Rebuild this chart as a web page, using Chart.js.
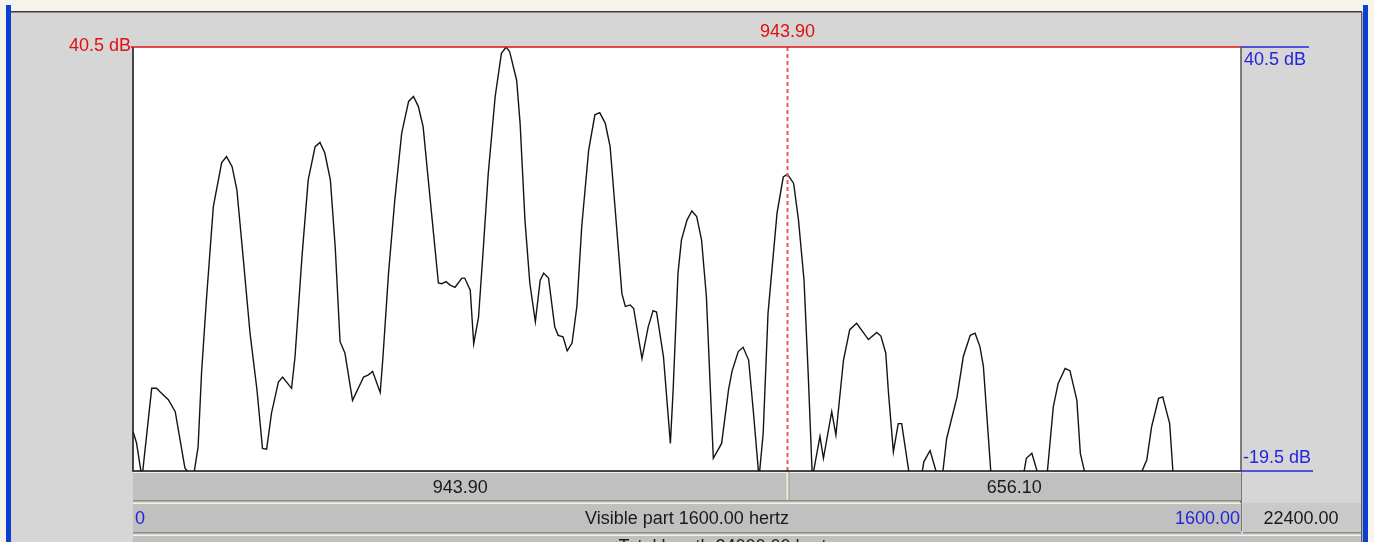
<!DOCTYPE html>
<html>
<head>
<meta charset="utf-8">
<script src="https://cdn.jsdelivr.net/npm/chart.js@4.4.1/dist/chart.umd.min.js"></script>
<style>
  html, body { margin: 0; padding: 0; background: #ffffff; overflow: hidden; }
  canvas { display: block; }
</style>
</head>
<body>
<canvas id="spec" width="1374" height="542"></canvas>
<script>
// spectrum slice, visible window 0..1600 Hz
const freqHz = [
  0, 5, 13, 27, 34, 39, 51, 61, 75, 87,
  94, 99, 106, 116, 128, 135, 143, 150, 159, 169,
  179, 187, 193, 200, 210, 216, 229, 234, 244, 253,
  263, 270, 277, 285, 292, 299, 306, 317, 333, 340,
  346, 357, 361, 369, 378, 388, 398, 405, 412, 419,
  426, 434, 441, 446, 452, 458, 465, 475, 479, 487,
  492, 499, 506, 513, 523, 532, 539, 544, 554, 559,
  566, 573, 581, 588, 593, 600, 609, 614, 621, 627,
  634, 641, 648, 658, 667, 674, 682, 689, 696, 706,
  711, 718, 723, 735, 744, 751, 756, 766, 776, 780,
  787, 792, 800, 807, 814, 821, 828, 838, 850, 860,
  865, 874, 881, 889, 896, 904, 910, 917, 930, 939,
  945, 954, 961, 969, 975, 981, 992, 997, 1009, 1015,
  1026, 1035, 1045, 1062, 1074, 1080, 1087, 1091, 1098, 1105,
  1110, 1121, 1130, 1139, 1142, 1151, 1161, 1165, 1169, 1175,
  1190, 1199, 1209, 1216, 1223, 1228, 1239, 1262, 1286, 1290,
  1298, 1307, 1314, 1320, 1329, 1336, 1346, 1353, 1363, 1368,
  1375, 1415, 1455, 1464, 1471, 1481, 1487, 1497, 1502, 1540,
  1600
];
const levelDb = [
  -13.9, -15.5, -20.5, -7.8, -7.8, -8.3, -9.4, -11.1, -19.1, -20.5,
  -16.1, -5.6, 4.7, 17.9, 24.1, 25.0, 23.6, 20.3, 10.8, 0.0,
  -8.0, -16.3, -16.4, -11.3, -6.9, -6.2, -7.8, -3.3, 10.8, 21.7,
  26.4, 27.0, 25.5, 21.7, 12.2, -1.2, -2.8, -9.5, -6.2, -5.9,
  -5.4, -8.4, -3.3, 8.5, 18.8, 28.3, 32.8, 33.5, 32.1, 29.2,
  22.1, 14.1, 7.1, 7.0, 7.3, 6.8, 6.5, 7.8, 7.8, 6.1,
  -1.5, 2.3, 12.2, 22.6, 33.5, 39.6, 40.5, 39.8, 35.8, 29.7,
  16.0, 7.1, 1.6, 7.5, 8.5, 7.8, 0.9, -0.3, -0.5, -2.5,
  -1.4, 3.8, 15.1, 25.9, 30.9, 31.2, 29.7, 26.4, 17.9, 5.6,
  3.8, 4.0, 3.5, -3.6, 0.9, 3.2, 3.0, -3.3, -15.6, -8.0,
  8.5, 13.2, 16.0, 17.3, 16.5, 13.2, 5.2, -17.7, -15.6, -8.0,
  -5.4, -2.6, -2.0, -3.8, -11.3, -20.5, -14.2, 2.8, 17.0, 22.1,
  22.5, 21.2, 16.0, 7.5, -5.7, -20.5, -14.6, -17.7, -11.1, -14.4,
  -3.8, 0.5, 1.4, -0.9, 0.1, -0.4, -2.8, -8.5, -16.8, -12.8,
  -12.8, -20, -24, -20, -18.2, -16.6, -20, -22, -20, -14.9,
  -9.0, -3.3, -0.3, 0.0, -1.9, -4.7, -20, -26, -20, -17.7,
  -17.0, -20, -22, -20, -10.4, -7.1, -5.0, -5.3, -9.5, -17.0,
  -20, -28, -20, -17.9, -13.2, -9.2, -9.0, -12.8, -20, -27,
  -25
];

const viewHz = [0, 1600];
const viewDb = [-19.5, 40.5];
const cursorHz = 943.90;
const totalHz = 24000;

const RED = '#e01010';
const BLUE = '#2424dc';
const FONT = '18px "Liberation Sans", Arial, sans-serif';

const praatFrame = {
  id: 'praatFrame',
  beforeDraw(chart) {
    const { ctx, chartArea: a, width: W, height: H } = chart;
    ctx.save();
    ctx.fillStyle = '#f6f4ea';
    ctx.fillRect(0, 0, W, H);
    ctx.fillStyle = '#d6d6d6';
    ctx.fillRect(10, 12, 1352, H - 12);
    ctx.fillStyle = '#3c3c3c';
    ctx.fillRect(10, 11, 1352, 1.5);
    ctx.fillStyle = '#0b3fd6';
    ctx.fillRect(6, 5, 5, H);
    ctx.fillRect(1363, 5, 5, H);
    ctx.fillStyle = '#606060';
    ctx.fillRect(1361, 12, 1.5, H);
    ctx.fillStyle = '#ffffff';
    ctx.fillRect(a.left, a.top, a.right - a.left, a.bottom - a.top);
    ctx.restore();
  },
  afterDraw(chart) {
    const { ctx, chartArea: a } = chart;
    const x = chart.scales.x, y = chart.scales.y;
    const cx = Math.round(x.getPixelForValue(cursorHz)) + 0.5;
    ctx.save();

    // cursor
    ctx.strokeStyle = '#f05454';
    ctx.lineWidth = 2;
    ctx.setLineDash([4, 3]);
    ctx.beginPath();
    ctx.moveTo(cx, a.top);
    ctx.lineTo(cx, a.bottom);
    ctx.stroke();
    ctx.setLineDash([]);

    // frame of the plot
    ctx.lineWidth = 1.5;
    ctx.strokeStyle = '#111';
    ctx.beginPath();
    ctx.moveTo(a.left, a.top); ctx.lineTo(a.left, a.bottom);
    ctx.lineTo(a.right, a.bottom);
    ctx.stroke();
    ctx.strokeStyle = '#555';
    ctx.beginPath();
    ctx.moveTo(a.right, a.top); ctx.lineTo(a.right, a.bottom + 60);
    ctx.stroke();
    ctx.strokeStyle = RED;
    ctx.beginPath();
    ctx.moveTo(a.left - 2, a.top); ctx.lineTo(a.right, a.top);
    ctx.stroke();

    // bars below the plot
    const bars = [[a.bottom + 1, 28], [a.bottom + 32, 29], [a.bottom + 64, 20]];
    bars.forEach(([top, h], i) => {
      ctx.fillStyle = '#c0c0c0';
      ctx.fillRect(a.left, top, (i === 2 ? 1361 : a.right) - a.left, h);
      ctx.fillStyle = '#f2f2ea';
      ctx.fillRect(a.left, top, (i === 2 ? 1361 : a.right) - a.left, 1);
      ctx.fillStyle = '#8e8a7c';
      ctx.fillRect(a.left, top + h, (i === 2 ? 1361 : a.right) - a.left, 1.5);
    });
    ctx.fillStyle = '#cacaca';
    ctx.fillRect(a.right + 2, bars[1][0], 1361 - a.right - 2, bars[1][1]);
    ctx.fillStyle = '#8e8a7c';
    ctx.fillRect(a.right + 2, bars[1][0] + bars[1][1], 1361 - a.right - 2, 1.5);
    ctx.fillStyle = '#eeeee4';
    ctx.fillRect(cx - 1, bars[0][0], 3, bars[0][1]);
    ctx.fillStyle = '#8e8a7c';
    ctx.fillRect(cx + 1, bars[0][0], 1, bars[0][1]);

    ctx.font = FONT;
    ctx.textBaseline = 'middle';

    // dB labels
    ctx.fillStyle = RED;
    ctx.textAlign = 'right';
    ctx.fillText(viewDb[1].toFixed(1) + ' dB', a.left - 2, a.top - 1);
    ctx.textAlign = 'center';
    ctx.fillText(cursorHz.toFixed(2), cx, a.top - 15);

    ctx.fillStyle = BLUE;
    ctx.strokeStyle = BLUE;
    ctx.lineWidth = 1.5;
    ctx.textAlign = 'left';
    const topTxt = viewDb[1].toFixed(1) + ' dB';
    const botTxt = viewDb[0].toFixed(1) + ' dB';
    ctx.fillText(topTxt, a.right + 3, y.getPixelForValue(viewDb[1]) + 13);
    ctx.beginPath();
    ctx.moveTo(a.right, a.top); ctx.lineTo(a.right + 6 + ctx.measureText(topTxt).width, a.top);
    ctx.stroke();
    ctx.fillText(botTxt, a.right + 2, y.getPixelForValue(viewDb[0]) - 13);
    ctx.beginPath();
    ctx.moveTo(a.right, a.bottom); ctx.lineTo(a.right + 4 + ctx.measureText(botTxt).width, a.bottom);
    ctx.stroke();

    // bar texts
    const r1 = bars[0][0] + 16, r2 = bars[1][0] + 16;
    ctx.fillStyle = '#1a1a1a';
    ctx.textAlign = 'center';
    ctx.fillText((cursorHz - viewHz[0]).toFixed(2), (a.left + cx) / 2, r1);
    ctx.fillText((viewHz[1] - cursorHz).toFixed(2), (cx + a.right) / 2, r1);
    ctx.fillText('Visible part ' + (viewHz[1] - viewHz[0]).toFixed(2) + ' hertz', (a.left + a.right) / 2, r2);
    ctx.fillText((totalHz - viewHz[1]).toFixed(2), (a.right + 1361) / 2, r2);
    ctx.fillText('Total length ' + totalHz.toFixed(2) + ' hertz', (a.left + a.right) / 2 + 40, bars[2][0] + 12);
    ctx.fillStyle = BLUE;
    ctx.textAlign = 'left';
    ctx.fillText(String(viewHz[0]), a.left + 2, r2);
    ctx.textAlign = 'right';
    ctx.fillText(viewHz[1].toFixed(2), a.right - 1, r2);

    ctx.restore();
  }
};

new Chart(document.getElementById('spec'), {
  type: 'line',
  data: {
    datasets: [{
      data: freqHz.map((f, i) => ({ x: f, y: levelDb[i] })),
      borderColor: '#141414',
      borderWidth: 1.4,
      pointRadius: 0,
      tension: 0,
      clip: 0
    }]
  },
  options: {
    responsive: false,
    animation: false,
    devicePixelRatio: 1,
    layout: { padding: { left: 133, right: 133, top: 47, bottom: 71 } },
    plugins: { legend: { display: false }, tooltip: { enabled: false } },
    scales: {
      x: { type: 'linear', min: viewHz[0], max: viewHz[1], display: false },
      y: { type: 'linear', min: viewDb[0], max: viewDb[1], display: false }
    }
  },
  plugins: [praatFrame]
});
</script>
</body>
</html>
